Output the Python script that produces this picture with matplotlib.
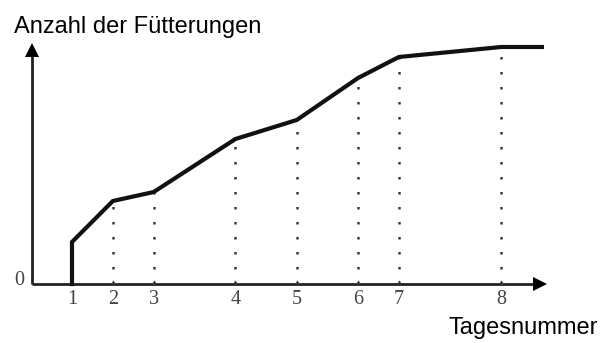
import matplotlib.pyplot as plt

# Tage (Beschriftung) und ihre Lage auf der x-Achse
tage = ['1', '2', '3', '4', '5', '6', '7', '8']
tag_pos = [1, 2, 3, 5, 6.5, 8, 9, 11.5]
# Anzahl der Fütterungen (relative Höhe)
anzahl = [4.2, 8.3, 9.2, 14.5, 16.4, 20.6, 22.7, 23.7]
ende_x = 12.5  # Ende der flachen Linie

fig = plt.figure(figsize=(6.05, 3.43), dpi=100)
ax = fig.add_axes([0, 0, 1, 1])
ax.set_xlim(-0.762, 14.044)
ax.set_ylim(-5.9, 28.4)

x0 = 1 - 40 / 40.86  # Lage der y-Achse
xe = 1 + 468 / 40.86  # Pfeil x-Achse
ye = 23.4             # Pfeil y-Achse

# Achsen mit Pfeilen
ax.plot([x0, xe], [0, 0], color='#222222', lw=2, solid_capstyle='butt')
ax.plot([x0, x0], [0, ye], color='#222222', lw=2, solid_capstyle='butt')
ax.plot(xe, 0, marker='>', color='black', ms=10, markeredgewidth=0)
ax.plot(x0, ye, marker='^', color='black', ms=10, markeredgewidth=0)

# gepunktete Hilfslinien und kleine Striche
for x, y in zip(tag_pos[1:], anzahl[1:]):
    ax.plot([x, x], [0, y], color='#3a3a3a', lw=1.8, linestyle=(0, (1, 5)))
for x in tag_pos:
    ax.plot([x, x], [0, 0.35], color='#333333', lw=1)

# Kurve
xs = [tag_pos[0]] + tag_pos + [ende_x]
ys = [0] + anzahl + [anzahl[-1]]
ax.plot(xs, ys, color='#111111', lw=3, solid_joinstyle='miter')

# Beschriftung der Tage
for x, t in zip(tag_pos, tage):
    ax.text(x, -1.5, t, ha='center', va='center', fontsize=14.5,
            family='Liberation Serif', color='#444444')
ax.text(x0 - 0.32, 0.35, '0', ha='center', va='center', fontsize=14.5,
        family='Liberation Serif', color='#444444')

fig.text(14 / 605, 1 - 27 / 343, 'Anzahl der Fütterungen', ha='left', va='center',
         fontsize=17, family='Liberation Sans', color='black')
fig.text(598 / 605, 1 - 328 / 343, 'Tagesnummer', ha='right', va='center',
         fontsize=17, family='Liberation Sans', color='black')

ax.axis('off')
fig.savefig('out.png', dpi=100)
